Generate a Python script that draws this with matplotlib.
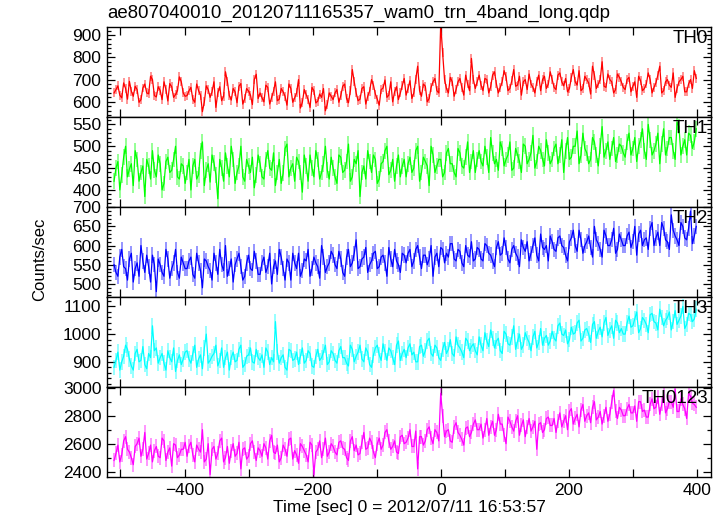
import numpy as np
import matplotlib
matplotlib.use("Agg")
import matplotlib.pyplot as plt
from matplotlib.ticker import MultipleLocator

plt.rcParams['font.family'] = ['Liberation Sans', 'DejaVu Sans']

title = "ae807040010_20120711165357_wam0_trn_4band_long.qdp"
xlabel = "Time [sec] 0 = 2012/07/11 16:53:57"
ylabel = "Counts/sec"
band_names = ["TH0", "TH1", "TH2", "TH3", "TH0123"]

# bin centres (s), 3 s bins; "_a" values are bins at -510, -504, ..., "_b" at -507, -501, ...
time_s = np.arange(-510, 400, 3)

th0_a = [640, 672, 618, 660, 692, 625, 655, 610, 680, 636, 700, 622, 651, 690, 604, 668, 633, 712, 640,
         628, 665, 598, 650, 556, 672, 620, 690, 640, 605, 735, 628, 660, 596, 682, 615, 648, 588, 724,
         640, 600, 665, 620, 690, 612, 645, 585, 660, 618, 700, 598, 632, 575, 650, 603, 620, 560, 640,
         610, 655, 628, 680, 596, 745, 640, 612, 668, 625, 700, 635, 585, 662, 620, 690, 645, 610, 672,
         630, 695, 640, 760, 625, 670, 615, 690, 650, 950, 700, 640, 690, 655, 705, 630, 680, 795, 660,
         720, 650, 700, 668, 735, 640, 690, 712, 660, 745, 675, 630, 700, 725, 665, 690, 650, 715, 680,
         700, 655, 730, 672, 645, 710, 690, 740, 660, 700, 635, 720, 680, 780, 665, 700, 640, 725, 690,
         655, 710, 670, 620, 695, 660, 730, 640, 685, 760, 650, 700, 665, 620, 690, 715, 645, 700, 740]
th0_b = [655, 630, 685, 612, 648, 670, 598, 662, 640, 715, 628, 668, 610, 655, 682, 620, 650, 690, 625,
         650, 612, 680, 630, 600, 655, 645, 575, 668, 625, 690, 608, 645, 670, 590, 660, 630, 700, 615,
         618, 675, 590, 648, 605, 660, 625, 680, 598, 640, 572, 655, 610, 665, 595, 635, 660, 590, 625,
         640, 598, 670, 615, 650, 690, 605, 660, 590, 648, 675, 612, 655, 698, 630, 600, 668, 640, 705,
         660, 615, 700, 650, 680, 600, 665, 705, 640, 820, 660, 710, 625, 690, 665, 720, 650, 700, 690,
         675, 705, 640, 720, 680, 665, 740, 650, 695, 670, 715, 690, 655, 680, 640, 720, 700, 660, 735,
         665, 720, 690, 705, 660, 745, 675, 650, 715, 685, 760, 660, 700, 670, 725, 690, 655, 710, 665,
         700, 645, 690, 715, 650, 680, 700, 665, 720, 640, 690, 675, 730, 660, 700, 645, 680, 660, 705]

th1_a = [420, 465, 435, 500, 448, 410, 470, 440, 385, 455, 490, 430, 460, 415, 475, 445, 500, 425, 455,
         440, 400, 470, 435, 510, 445, 418, 462, 380, 450, 485, 430, 470, 440, 500, 420, 455, 475, 435,
         460, 425, 490, 445, 410, 470, 438, 505, 450, 420, 465, 395, 455, 480, 430, 470, 440, 500, 425,
         450, 415, 475, 445, 505, 430, 460, 385, 455, 490, 440, 470, 425, 465, 500, 445, 420, 480, 455,
         430, 475, 450, 500, 440, 465, 410, 480, 455, 470, 440, 495, 460, 430, 485, 450, 510, 465, 440,
         490, 455, 475, 520, 460, 445, 495, 470, 510, 450, 480, 440, 500, 470, 525, 465, 490, 455, 485,
         470, 505, 480, 440, 520, 475, 500, 460, 530, 485, 470, 510, 455, 545, 490, 470, 520, 480, 500,
         475, 530, 495, 465, 515, 490, 550, 480, 505, 460, 540, 495, 520, 470, 545, 500, 480, 525, 510]
th1_b = [450, 400, 475, 430, 460, 490, 420, 455, 470, 425, 445, 480, 400, 465, 440, 470, 430, 460, 415,
         470, 455, 425, 490, 410, 460, 480, 435, 470, 420, 455, 500, 415, 455, 430, 470, 440, 405, 480,
         430, 470, 450, 485, 440, 415, 495, 430, 460, 475, 440, 480, 420, 450, 490, 425, 460, 445, 475,
         430, 480, 440, 465, 420, 470, 490, 440, 425, 465, 480, 415, 460, 490, 435, 470, 455, 430, 470,
         460, 440, 490, 420, 475, 455, 500, 440, 470, 430, 485, 460, 440, 495, 455, 475, 440, 490, 470,
         465, 500, 440, 485, 470, 510, 455, 480, 445, 495, 465, 505, 460, 485, 450, 500, 470, 515, 460,
         495, 460, 515, 490, 470, 500, 535, 480, 495, 460, 520, 480, 500, 475, 510, 495, 465, 505, 485,
         510, 480, 520, 500, 540, 470, 515, 490, 530, 505, 480, 520, 490, 555, 480, 515, 530, 495, 540]

th2_a = [550, 520, 590, 540, 565, 505, 555, 600, 530, 545, 575, 480, 550, 520, 565, 540, 590, 515, 555,
         540, 570, 515, 555, 490, 560, 535, 580, 525, 550, 600, 540, 505, 565, 545, 520, 575, 535, 560,
         525, 570, 545, 500, 560, 590, 540, 565, 510, 555, 580, 535, 560, 520, 570, 545, 600, 530, 555,
         575, 540, 565, 520, 590, 555, 615, 545, 570, 530, 560, 585, 545, 575, 520, 565, 590, 550, 580,
         555, 590, 560, 600, 540, 575, 565, 520, 580, 595, 555, 570, 605, 560, 585, 545, 575, 610, 565,
         590, 560, 600, 575, 545, 610, 580, 595, 555, 600, 570, 615, 585, 560, 600, 575, 630, 590, 560,
         610, 585, 625, 595, 560, 620, 600, 640, 580, 610, 595, 650, 605, 570, 625, 600, 645, 590, 615,
         600, 635, 610, 575, 640, 615, 590, 660, 620, 600, 645, 610, 680, 625, 600, 650, 615, 690, 625]
th2_b = [530, 570, 545, 510, 580, 540, 520, 560, 575, 505, 550, 565, 530, 590, 515, 555, 530, 570, 540,
         560, 525, 580, 535, 565, 545, 510, 555, 590, 535, 520, 565, 550, 580, 510, 555, 540, 585, 525,
         555, 530, 580, 545, 525, 570, 510, 555, 580, 540, 520, 565, 590, 540, 555, 515, 570, 545, 585,
         550, 585, 530, 570, 545, 580, 540, 565, 595, 550, 580, 540, 570, 555, 595, 545, 560, 530, 575,
         580, 545, 590, 570, 575, 550, 600, 570, 545, 590, 580, 605, 565, 590, 555, 600, 570, 560, 595,
         565, 605, 580, 560, 595, 575, 620, 565, 590, 580, 545, 595, 610, 580, 620, 560, 595, 600, 625,
         590, 620, 600, 575, 610, 640, 585, 615, 600, 625, 570, 615, 590, 640, 600, 615, 580, 630, 600,
         625, 595, 650, 630, 600, 620, 645, 600, 635, 660, 615, 590, 640, 615, 660, 620, 645, 605, 650]

th3_a = [880, 935, 900, 960, 910, 870, 945, 905, 890, 930, 1030, 950, 915, 895, 940, 900, 865, 925, 910,
         940, 895, 960, 910, 875, 1000, 905, 930, 885, 950, 915, 870, 935, 905, 960, 890, 925, 900, 945,
         905, 880, 935, 915, 1045, 895, 925, 870, 940, 910, 890, 950, 905, 930, 880, 945, 915, 960, 900,
         930, 895, 955, 915, 885, 945, 920, 960, 900, 935, 880, 950, 925, 965, 905, 940, 890, 975, 930,
         915, 965, 935, 900, 960, 940, 985, 920, 950, 905, 970, 945, 930, 990, 950, 915, 975, 955, 940,
         990, 940, 975, 1015, 950, 985, 930, 1000, 960, 1030, 975, 945, 1005, 970, 990, 950, 1020, 985, 960,
         1010, 975, 1040, 995, 965, 1025, 1005, 1050, 985, 1020, 970, 1045, 1010, 990, 1060, 1015, 985, 1040, 1020,
         1000, 1065, 1030, 1080, 1020, 1050, 1005, 1075, 1040, 1090, 1030, 1060, 1015, 1085, 1050, 1100, 1035, 1070, 1055]
th3_b = [905, 870, 920, 945, 885, 930, 900, 955, 875, 915, 940, 895, 930, 870, 915, 950, 905, 890, 935,
         910, 930, 880, 925, 950, 895, 920, 960, 905, 880, 935, 915, 900, 945, 880, 920, 950, 895, 915,
         925, 950, 890, 900, 935, 915, 880, 945, 905, 935, 920, 895, 940, 885, 920, 905, 935, 890, 940,
         905, 940, 915, 895, 960, 900, 935, 910, 950, 890, 925, 960, 905, 935, 950, 915, 960, 905, 945,
         950, 925, 900, 955, 920, 975, 930, 960, 915, 945, 930, 980, 920, 960, 935, 985, 940, 965, 925,
         960, 1005, 955, 985, 975, 940, 1010, 965, 990, 945, 1000, 960, 985, 940, 1010, 970, 960, 995, 975,
         985, 1030, 1000, 1015, 980, 1000, 1040, 975, 1015, 1000, 1035, 985, 1025, 1040, 995, 1030, 1050, 1005, 1000,
         1040, 1025, 1055, 1005, 1060, 1035, 1070, 1045, 1015, 1060, 1050, 1080, 1045, 1035, 1065, 1020, 1075, 1045, 1090]

th0123_a = [2480, 2590, 2520, 2650, 2540, 2450, 2600, 2510, 2680, 2530, 2470, 2580, 2500, 2620, 2540, 2440, 2590, 2520, 2560,
            2510, 2610, 2470, 2560, 2700, 2490, 2380, 2580, 2530, 2640, 2500, 2460, 2600, 2530, 2420, 2570, 2510, 2620, 2480,
            2550, 2600, 2490, 2660, 2530, 2470, 2590, 2510, 2640, 2550, 2460, 2580, 2520, 2610, 2380, 2560, 2500, 2640, 2540,
            2580, 2520, 2620, 2560, 2480, 2650, 2590, 2530, 2680, 2570, 2610, 2500, 2640, 2590, 2700, 2560, 2620, 2530, 2660,
            2610, 2700, 2580, 2420, 2650, 2620, 2720, 2600, 2680, 2960, 2650, 2700, 2610, 2750, 2660, 2590, 2720, 2680, 2770,
            2700, 2640, 2780, 2720, 2660, 2810, 2740, 2600, 2760, 2690, 2800, 2730, 2650, 2780, 2720, 2560, 2750, 2700, 2790,
            2730, 2680, 2820, 2760, 2700, 2850, 2780, 2720, 2880, 2800, 2750, 2900, 2790, 2740, 2860, 2810, 2980, 2780, 2840,
            2800, 2880, 2820, 2760, 2900, 2840, 2790, 2920, 2860, 2810, 2950, 2850, 2900, 2990, 2830, 2880, 2780, 2940, 2880]
th0123_b = [2530, 2470, 2620, 2560, 2500, 2580, 2640, 2560, 2490, 2590, 2550, 2510, 2640, 2480, 2570, 2600, 2500, 2560, 2610,
            2580, 2520, 2590, 2540, 2470, 2600, 2560, 2490, 2620, 2470, 2580, 2550, 2510, 2610, 2560, 2490, 2600, 2540, 2570,
            2510, 2570, 2620, 2540, 2590, 2500, 2560, 2630, 2490, 2520, 2600, 2550, 2470, 2590, 2540, 2620, 2560, 2510, 2600,
            2540, 2610, 2570, 2500, 2620, 2550, 2520, 2610, 2560, 2640, 2540, 2600, 2560, 2680, 2620, 2580, 2540, 2650, 2600,
            2640, 2580, 2690, 2650, 2590, 2700, 2640, 2700, 2620, 2800, 2690, 2620, 2720, 2680, 2630, 2710, 2650, 2740, 2700,
            2740, 2700, 2660, 2760, 2700, 2740, 2660, 2790, 2720, 2760, 2660, 2770, 2720, 2690, 2760, 2740, 2680, 2780, 2730,
            2780, 2760, 2720, 2800, 2830, 2740, 2810, 2840, 2760, 2820, 2860, 2770, 2830, 2800, 2760, 2900, 2830, 2860, 2800,
            2850, 2820, 2870, 2900, 2830, 2790, 2880, 2850, 2930, 2880, 2820, 2900, 2860, 2830, 2920, 2850, 2960, 2890, 2860]

band_errors = [20, 18, 20, 28, 50]

series = [(th0_a, th0_b), (th1_a, th1_b), (th2_a, th2_b), (th3_a, th3_b), (th0123_a, th0123_b)]
colors = ["#ff0000", "#00ff00", "#0000ff", "#00ffff", "#ff00ff"]
ylims = [(532, 936), (361, 567), (466, 700.5), (809, 1134), (2362, 3005)]
major_steps = [100, 50, 50, 100, 200]
minor_steps = [20, 10, 10, 20, 100]

fig = plt.figure(figsize=(7.23, 5.16), dpi=100)
left, right, top, bottom = 107 / 723, 711 / 723, 1 - 27 / 516, 1 - 477 / 516
h = (top - bottom) / 5

axes = []
for i in range(5):
    ax = fig.add_axes([left, top - (i + 1) * h, right - left, h])
    axes.append(ax)
    a, b = series[i]
    vals = np.column_stack([np.asarray(a, float), np.asarray(b, float)]).ravel()
    ax.errorbar(time_s, vals, yerr=band_errors[i], fmt='none', ecolor=colors[i],
                elinewidth=1.3, alpha=0.45)
    ax.plot(time_s, vals, color=colors[i], lw=0.9)
    ax.set_xlim(-521, 422)
    ax.set_ylim(*ylims[i])
    ax.xaxis.set_major_locator(MultipleLocator(200))
    ax.xaxis.set_minor_locator(MultipleLocator(100))
    ax.yaxis.set_major_locator(MultipleLocator(major_steps[i]))
    ax.yaxis.set_minor_locator(MultipleLocator(minor_steps[i]))
    ax.tick_params(which='both', direction='in', top=True, right=True, labelsize=12.5, width=0.9)
    ax.tick_params(which='major', length=6, pad=4)
    ax.tick_params(which='minor', length=3)
    ax.tick_params(axis='x', which='minor', length=6)
    for s in ax.spines.values():
        s.set_linewidth(1.0)
    if i < 4:
        ax.tick_params(axis='x', labelbottom=False)
    ax.text(0.995, 0.97, band_names[i], transform=ax.transAxes, ha='right', va='top',
            fontsize=13.5)

axes[-1].set_xlabel(xlabel, fontsize=12.5, labelpad=2)
fig.text(left, 1 - 13 / 516, title, ha='left', va='center', fontsize=13.4)
fig.text(40 / 723, 1 - 259 / 516, ylabel, rotation=90, ha='center', va='center', fontsize=12)

fig.savefig("out.png", dpi=100)
